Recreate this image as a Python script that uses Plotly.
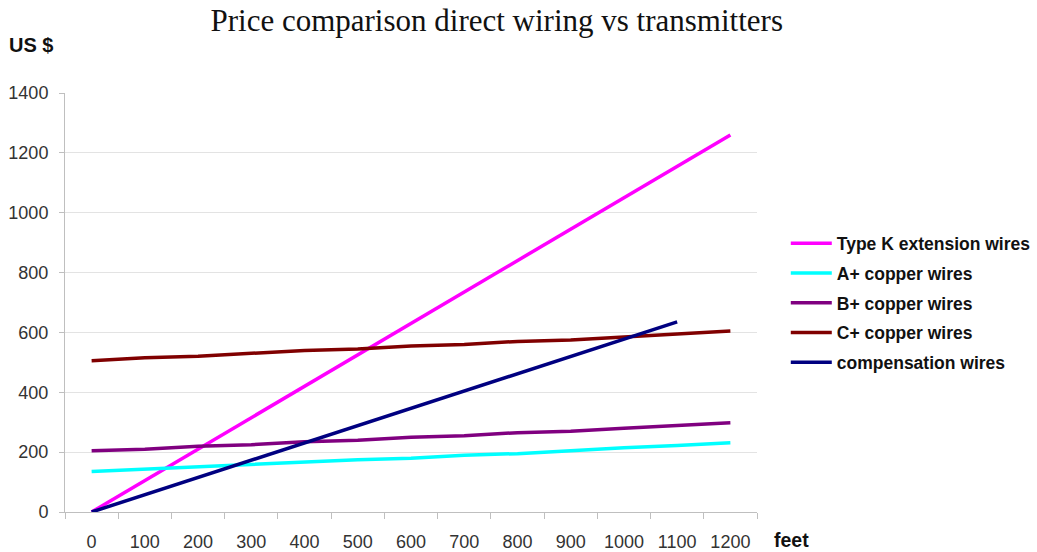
import plotly.graph_objects as go

feet = ["0", "100", "200", "300", "400", "500", "600", "700", "800", "900", "1000", "1100", "1200"]

type_k = [0, 105, 210, 315, 420, 525, 630, 735, 840, 945, 1050, 1155, 1260]
a_plus = [135, 143, 150, 158, 165, 175, 180, 190, 195, 205, 215, 222, 231]
b_plus = [205, 210, 220, 225, 235, 240, 250, 255, 265, 270, 280, 290, 298]
c_plus = [505, 515, 520, 530, 540, 545, 555, 560, 570, 575, 585, 595, 605]
compensation = [0, 58, 115, 173, 231, 289, 346, 404, 462, 519, 577, 635]

series = [
    ("Type K extension wires", type_k, "#FF00FF"),
    ("A+ copper wires", a_plus, "#00FFFF"),
    ("B+ copper wires", b_plus, "#800080"),
    ("C+ copper wires", c_plus, "#800000"),
    ("compensation wires", compensation, "#000080"),
]

fig = go.Figure()
for i, (name, vals, color) in enumerate(series):
    fig.add_trace(go.Scatter(
        x=feet[:len(vals)], y=vals, mode="lines", name=name,
        line=dict(color=color, width=3.5), legendgroup=f"g{i}",
    ))

fig.update_layout(
    width=1037, height=552,
    paper_bgcolor="white", plot_bgcolor="white",
    margin=dict(l=65, r=280, t=93, b=40, autoexpand=False),
    font=dict(family="Liberation Sans, Arial, sans-serif", color="#333333"),
    title=dict(text="Price comparison direct wiring vs transmitters",
               font=dict(family="Liberation Serif, Times New Roman, serif", size=31, color="#111111"),
               x=0.479, xref="container", xanchor="center", y=0.963, yref="container", yanchor="middle"),
    showlegend=True,
    legend=dict(x=1.0416, xanchor="left", y=0.684, yanchor="top",
                font=dict(size=17.5, color="#111111", family="Liberation Sans, Arial, sans-serif", weight="bold"),
                traceorder="grouped", tracegroupgap=4, itemwidth=41, bgcolor="rgba(0,0,0,0)"),
)

fig.update_xaxes(
    type="category", range=[-0.5, 12.5], tickson="boundaries",
    ticks="outside", ticklen=6, tickcolor="#bfbfbf",
    showline=True, linecolor="#bfbfbf", linewidth=1, automargin=False,
    showgrid=False, tickfont=dict(size=18, color="#333333"), ticklabelstandoff=13,
)
fig.update_yaxes(
    range=[0, 1400], dtick=200, ticks="outside", ticklen=5, tickcolor="#bfbfbf",
    showline=True, linecolor="#bfbfbf", linewidth=1, automargin=False,
    showgrid=True, gridcolor="#e3e3e3", gridwidth=1, zeroline=False,
    tickfont=dict(size=18, color="#333333"), ticklabelstandoff=7,
)

fig.add_annotation(text="<b>US $</b>", xref="paper", yref="paper", x=-0.084, y=1.115,
                   xanchor="left", yanchor="middle", showarrow=False,
                   font=dict(size=20, color="#111111"))
fig.add_annotation(text="<b>feet</b>", xref="paper", yref="paper", x=1.022, y=-0.068,
                   xanchor="left", yanchor="middle", showarrow=False,
                   font=dict(size=19.5, color="#111111"))

fig.write_html("out.html", config={"displayModeBar": False},
               post_script="document.body.style.margin='0px';")
